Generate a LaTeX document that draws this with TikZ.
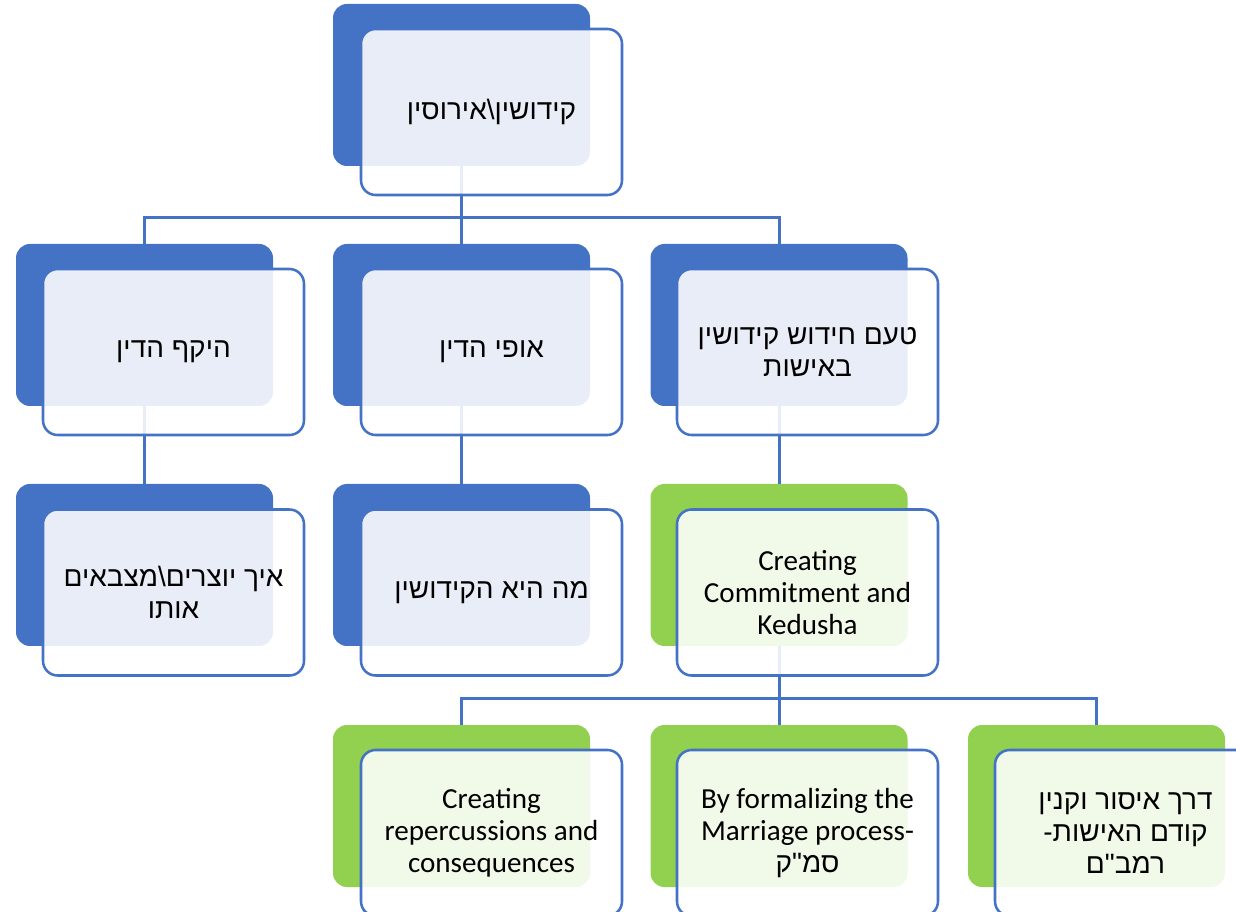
\documentclass[tikz,border=0pt]{standalone}
\usepackage{fontspec}
\setmainfont{Carlito}
\newfontfamily\hebfont[Script=Hebrew]{Liberation Sans}
\TeXXeTstate=1
\newcommand{\heb}[1]{{\hebfont\fontsize{21}{24}\selectfont\beginR #1\endR}}
\definecolor{myblue}{HTML}{4472C4}
\definecolor{mygreen}{HTML}{92D050}
\begin{document}
\begin{tikzpicture}[x=0.75pt,y=-0.75pt,
  back/.style={rounded corners=10.5pt, minimum width=192.75pt, minimum height=121.5pt, inner sep=0pt, draw=none},
  bblue/.style={back, fill=myblue},
  bgreen/.style={back, fill=mygreen},
  front/.style={rounded corners=11pt, minimum width=195.75pt, minimum height=124.5pt, inner sep=0pt,
    draw=myblue, line width=1.9pt, fill=white, fill opacity=0.88, text opacity=1, align=center,
    font=\fontsize{21.8}{24}\selectfont},
  conn/.style={draw=myblue, line width=2.25pt}]
\path[use as bounding box, clip] (0,0) rectangle (1236,912);
% back boxes
\node[bblue] (tb) at (461.5,85) {};
\node[bblue] (b21) at (144.5,325) {};
\node[bblue] (b22) at (461.5,325) {};
\node[bblue] (b23) at (779,325) {};
\node[bblue] (b31) at (144.5,565) {};
\node[bblue] (b32) at (461.5,565) {};
\node[bgreen] (b33) at (779,565) {};
\node[bgreen] (b41) at (461.5,806) {};
\node[bgreen] (b42) at (779,806) {};
\node[bgreen] (b43) at (1096.5,806) {};
% connectors
\coordinate (bar1) at (461.5,218);
\coordinate (bar2) at (779,699);
\draw[conn] (tb.south) -- (bar1);
\draw[conn] (b21.north) |- (bar1) -| (b23.north);
\draw[conn] (bar1) -- (b22.north);
\draw[conn] (b21.south) -- (b31.north);
\draw[conn] (b22.south) -- (b32.north);
\draw[conn] (b23.south) -- (b33.north);
\draw[conn] (b33.south) -- (bar2);
\draw[conn] (b41.north) |- (bar2) -| (b43.north);
\draw[conn] (bar2) -- (b42.north);
% front boxes
\node[front] (tf) at (491.5,112) {\heb{קידושין\textbackslash אירוסין}};
\node[front] (f21) at (173.5,352) {\heb{היקף הדין}};
\node[front] (f22) at (491.5,352) {\heb{אופי הדין}};
\node[front] (f23) at (807.5,352) {\heb{טעם חידוש קידושין}\\\heb{באישות}};
\node[front] (f31) at (173.5,592.5) {\heb{איך יוצרים\textbackslash מצבאים}\\\heb{אותו}};
\node[front] (f32) at (491.5,592.5) {\heb{מה היא הקידושין}};
\node[front] (f33) at (807.5,592.5) {Creating\\Commitment and\\Kedusha};
\node[front] (f41) at (491.5,833) {Creating\\repercussions and\\consequences};
\node[front] (f42) at (807.5,833) {By formalizing the\\Marriage process-\\\heb{סמ"ק}};
\node[front] (f43) at (1125.5,833) {\heb{דרך איסור וקנין}\\\heb{קודם האישות-}\\\heb{רמב"ם}};
\end{tikzpicture}
\end{document}
